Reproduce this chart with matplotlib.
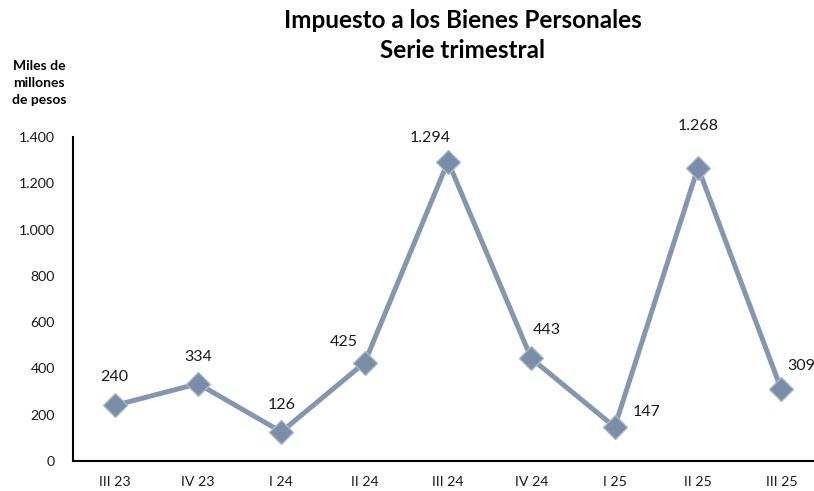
import numpy as np
import matplotlib.pyplot as plt
from matplotlib.ticker import FuncFormatter

# --- DATA
trimestres = ['III 23', 'IV 23', 'I 24', 'II 24', 'III 24', 'IV 24', 'I 25', 'II 25', 'III 25']
valores = [240, 334, 126, 425, 1294, 443, 147, 1268, 309]
etiquetas = ['240', '334', '126', '425', '1.294', '443', '147', '1.268', '309']
# label offsets in pixels (dx, dy)
desplaz = [(0, 28), (0, 27), (0, 27), (-21, 21), (-18, 24), (15, 28), (32, 15), (0, 42), (20, 23)]

plt.rcParams['font.family'] = ['Lato', 'DejaVu Sans']

W, H = 814, 491
fig = plt.figure(figsize=(W / 100, H / 100), dpi=100)
# axes box in pixels: left 73, bottom 461, top 137, right beyond picture
ax = fig.add_axes([73 / W, (H - 461) / H, (823 - 73) / W, (461 - 137) / H])

x = np.arange(len(valores))
ax.plot(x, valores, color='#8497b0', lw=3.6, marker='D', ms=12,
        markerfacecolor='#7a8ea7', markeredgecolor='#a9b8ca', markeredgewidth=1.0,
        solid_joinstyle='miter', zorder=3)

for xi, v, t, (dx, dy) in zip(x, valores, etiquetas, desplaz):
    ax.annotate(t, (xi, v), xytext=(dx, dy), textcoords='offset pixels',
                ha='center', va='center', fontsize=11.5, color='#1a1a1a')

ax.set_xlim(-0.5, len(valores) - 0.5)
ax.set_ylim(0, 1400)
ax.set_yticks(np.arange(0, 1401, 200))
ax.yaxis.set_major_formatter(FuncFormatter(lambda v, p: f'{int(v):,}'.replace(',', '.')))
ax.set_xticks(x)
ax.set_xticklabels(trimestres)
ax.tick_params(axis='both', length=0, labelsize=10.2, colors='#1a1a1a')
ax.tick_params(axis='y', pad=13)
ax.tick_params(axis='x', pad=11)

for s in ['top', 'right']:
    ax.spines[s].set_visible(False)
ax.spines['left'].set_linewidth(1.5)
ax.spines['bottom'].set_linewidth(1.5)

fig.text(463 / W, 1 - 20 / H, 'Impuesto a los Bienes Personales', ha='center', va='center',
         fontsize=17.5, fontweight='bold')
fig.text(463 / W, 1 - 50 / H, 'Serie trimestral', ha='center', va='center',
         fontsize=17.5, fontweight='bold')
fig.text(39 / W, 1 - 83 / H, 'Miles de\nmillones\nde pesos', ha='center', va='center',
         fontsize=10, fontweight='bold', linespacing=1.45)

fig.savefig('out.png', dpi=100)
